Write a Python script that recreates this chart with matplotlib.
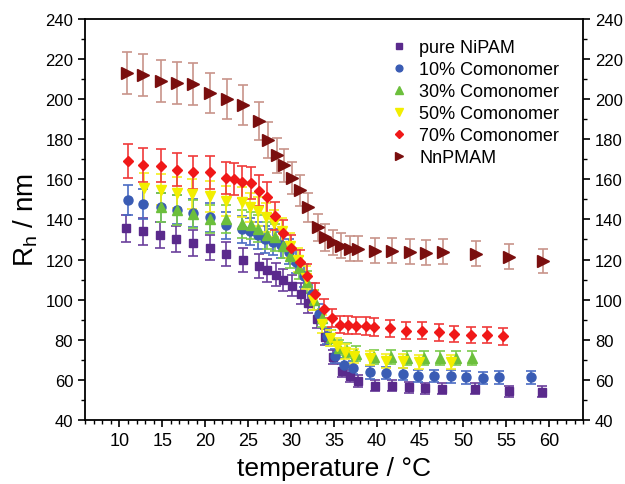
import matplotlib
matplotlib.use("Agg")
import matplotlib.pyplot as plt
from matplotlib.ticker import MultipleLocator

plt.rcParams['font.family'] = ['Liberation Sans', 'DejaVu Sans']

# pure NiPAM
t_pure = [10.8, 12.8, 14.7, 16.6, 18.6, 20.5, 22.4, 24.4, 26.3, 27.2, 28.2, 29.1, 30.1, 31.1,
          32.0, 33.0, 34.0, 34.9, 35.9, 36.9, 37.8, 39.8, 41.8, 43.7, 45.6, 47.6, 51.4, 55.4, 59.2]
r_pure = [135.5, 134.2, 132.3, 130.2, 128.3, 126.0, 122.8, 119.8, 116.8, 114.6, 112.5, 109.6, 107.0, 103.0,
          98.3, 90.5, 81.5, 71.5, 64.5, 62.0, 59.6, 57.1, 57.1, 56.3, 55.8, 55.5, 55.5, 54.3, 54.2]

# 10% comonomer
t_10 = [11.0, 12.8, 14.8, 16.7, 18.6, 20.5, 22.4, 24.3, 25.2, 26.1, 27.0, 27.9, 28.8, 29.7, 30.6,
        31.5, 32.4, 33.3, 34.2, 35.1, 36.2, 37.2, 39.2, 41.1, 43.0, 44.8, 46.6, 48.6, 50.4, 52.3, 54.2, 57.9]
r_10 = [149.8, 147.7, 146.1, 144.8, 143.2, 141.0, 137.0, 135.0, 134.2, 132.0, 130.0, 128.8, 127.3, 124.0, 119.0,
        112.0, 103.0, 93.0, 82.0, 72.0, 67.5, 66.0, 63.8, 63.4, 62.9, 62.0, 62.0, 61.7, 61.2, 60.8, 61.2, 61.2]

# 30% comonomer
t_30 = [14.8, 16.7, 18.6, 20.5, 22.4, 24.3, 25.3, 26.2, 27.2, 28.1, 29.0, 29.9, 30.9, 31.8, 32.7,
        33.6, 34.6, 35.6, 36.5, 37.6, 39.7, 41.6, 43.5, 45.5, 47.3, 49.2, 51.1]
r_30 = [146.0, 144.7, 142.7, 140.4, 140.2, 137.8, 137.0, 135.3, 132.0, 131.0, 127.0, 122.0, 116.0, 109.0, 100.0,
        91.0, 81.0, 76.0, 74.5, 73.0, 71.5, 71.5, 71.0, 71.0, 71.0, 71.0, 71.0]

# 50% comonomer
t_50 = [12.9, 14.8, 16.7, 18.5, 20.5, 22.4, 24.3, 25.2, 26.2, 27.1, 28.0, 28.9, 29.9, 30.8, 31.7,
        32.6, 33.6, 34.5, 35.4, 36.3, 37.3, 39.2, 41.1, 43.0, 44.9, 48.6]
r_50 = [155.6, 154.8, 153.4, 152.7, 151.5, 149.4, 148.9, 146.0, 144.0, 141.0, 138.0, 134.0, 127.0, 120.0, 111.0,
        100.0, 88.0, 81.0, 77.0, 74.0, 72.0, 71.0, 69.6, 69.6, 69.0, 69.0]

# 70% comonomer
t_70 = [11.0, 12.8, 14.8, 16.7, 18.6, 20.5, 22.4, 23.4, 24.3, 25.3, 26.3, 27.2, 28.1, 29.0, 30.0, 31.0,
        31.9, 32.8, 33.8, 34.75, 35.7, 36.6, 37.6, 38.7, 39.6, 41.5, 43.4, 45.2, 47.2, 49.0, 51.0, 52.8, 54.7]
r_70 = [169.3, 167.2, 166.8, 164.8, 163.5, 163.6, 160.5, 160.2, 158.6, 158.2, 154.4, 151.0, 141.6, 133.0, 126.0, 119.0,
        112.0, 103.0, 95.5, 91.0, 87.6, 87.3, 87.0, 86.9, 86.4, 85.7, 84.5, 84.5, 83.7, 82.9, 82.4, 82.4, 81.7]

# NnPMAM
t_nn = [10.9, 12.8, 14.8, 16.7, 18.6, 20.5, 22.5, 24.4, 26.3, 27.3, 28.3, 29.2, 30.1, 31.0, 32.0,
        33.1, 34.0, 34.9, 35.8, 36.8, 37.8, 39.8, 41.8, 43.8, 45.7, 47.7, 51.5, 55.4, 59.3]
r_nn = [213.0, 212.0, 209.0, 208.0, 207.5, 203.0, 200.0, 197.0, 189.0, 179.5, 172.0, 167.0, 160.5, 154.5, 146.0,
        136.0, 131.0, 128.5, 127.0, 125.5, 125.5, 124.5, 124.5, 124.0, 123.5, 124.0, 123.0, 121.5, 119.5]

rel_err = 0.05  # error bars read as ~5 % of R_h

series = [
    (t_pure, r_pure, 'pure NiPAM', 's', '#5a2a8c', '#6b3f9c', 5.5),
    (t_10, r_10, '10% Comonomer', 'o', '#3a5cb4', '#4a6cc4', 6.5),
    (t_30, r_30, '30% Comonomer', '^', '#6cbf3c', '#7acb4c', 7),
    (t_50, r_50, '50% Comonomer', 'v', '#f2ee00', '#f4ef20', 7),
    (t_70, r_70, '70% Comonomer', 'D', '#f01818', '#f03a3a', 5.5),
    (t_nn, r_nn, 'NnPMAM', '>', '#7a0e0e', '#c8948a', 8),
]

fig = plt.figure(figsize=(6.25, 4.85), dpi=100)
ax = fig.add_axes([0.136, 0.132, 0.797, 0.827])

for t, r, label, marker, color, ecolor, ms in series:
    err = [v * rel_err for v in r]
    ax.errorbar(t, r, yerr=err, fmt=marker, color=color, ecolor=ecolor, ms=ms,
                mec=color, elinewidth=1.2, capsize=3.6, capthick=1.2, label=label)

ax.set_xlim(6, 64)
ax.set_ylim(40, 240)
ax.xaxis.set_minor_locator(MultipleLocator(1))
ax.yaxis.set_major_locator(MultipleLocator(20))
ax.yaxis.set_minor_locator(MultipleLocator(10))
ax.set_xticks(range(10, 61, 5))

ax.tick_params(axis='x', which='both', direction='out', top=False, labelsize=13)
ax.tick_params(axis='y', which='both', direction='out', left=True, right=True,
               labelleft=True, labelright=True, labelsize=12)
ax.tick_params(which='major', length=5, width=1.2)
ax.tick_params(which='minor', length=3, width=1.0)
for sp in ax.spines.values():
    sp.set_linewidth(1.3)

ax.set_xlabel('temperature / °C', fontsize=19, labelpad=5)
ax.set_ylabel(r'R$_\mathregular{h}$ / nm', fontsize=20, labelpad=4)

# legend shows markers only, without the error bars
handles, labels = ax.get_legend_handles_labels()
handles = [h[0] for h in handles]
ax.legend(handles, labels, loc='upper left', bbox_to_anchor=(0.58, 0.99), frameon=False,
          fontsize=13, handletextpad=0.6, labelspacing=0.28, markerscale=0.75,
          handlelength=1.0)

fig.savefig('out.png', dpi=100)
